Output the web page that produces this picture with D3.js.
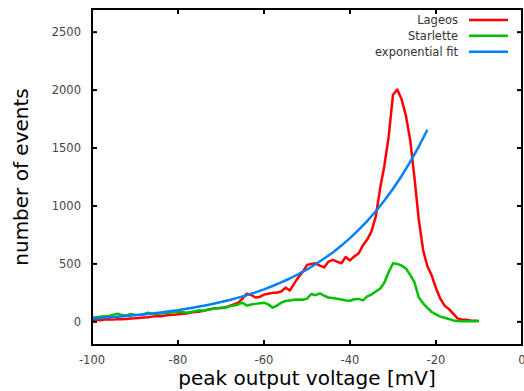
<!DOCTYPE html>
<html><head><meta charset="utf-8">
<script src="https://cdn.jsdelivr.net/npm/d3@7/dist/d3.min.js"></script>
<style>body{margin:0;background:#fff}svg{display:block}</style>
</head><body>
<svg id="c" width="524" height="391"></svg>
<script>
const voltage = [-100,-99,-98,-97,-96,-95,-94,-93,-92,-91,-90,-89,-88,-87,-86,-85,-84,-83,-82,-81,
  -80,-79,-78,-77,-76,-75,-74,-73,-72,-71,-70,-69,-68,-67,-66,-65,-64,-63,-62,-61,
  -60,-59,-58,-57,-56,-55,-54,-53,-52,-51,-50,-49,-48,-47,-46,-45,-44,-43,-42,-41,
  -40,-39,-38,-37,-36,-35,-34,-33,-32,-31,-30,-29,-28,-27,-26,-25,-24,-23,-22,-21,
  -20,-19,-18,-17,-16,-15,-14,-13,-12,-11,-10];
const lageos = [15,18,14,20,22,19,24,22,25,28,
  30,34,38,40,45,50,48,55,58,60,
  65,70,72,80,85,88,95,105,112,118,
  120,125,138,150,165,200,243,232,210,215,
  235,243,250,252,262,295,270,330,385,430,
  490,500,505,485,470,520,535,520,505,560,
  530,565,590,660,710,780,910,1150,1350,1600,
  1960,2005,1920,1780,1570,1240,880,620,480,400,
  290,200,140,110,70,30,20,18,12,10,8];
const starlette = [35,40,45,48,50,62,70,58,55,68,
  62,60,65,78,70,68,72,80,78,82,
  86,84,78,85,92,100,95,105,113,118,
  122,120,135,140,150,165,140,150,155,160,
  165,150,122,140,165,180,185,190,192,190,
  200,240,230,245,225,210,205,200,192,185,
  182,195,198,185,220,235,262,285,340,430,
  505,500,485,460,405,340,210,160,120,85,
  65,45,35,25,12,8,6,5,5,5,8];
const fitVoltage = [-100,-98,-96,-94,-92,-90,-88,-86,-84,-82,-80,-78,-76,-74,-72,-70,-68,-66,-64,-62,
  -60,-58,-56,-54,-52,-50,-48,-46,-44,-42,-40,-38,-36,-34,-32,-30,-28,-26,-24,-22];
const fitValues = [29,34,39,44,50,57,64,72,81,91,101,113,125,139,154,171,189,209,230,254,
  280,309,340,374,411,452,497,546,599,658,722,793,870,954,1047,1148,1259,1380,1513,1658];
const xTicks = [-100,-80,-60,-40,-20,0];
const yTicks = [0,500,1000,1500,2000,2500];
const seriesNames = ["Lageos","Starlette","exponential fit"];
const seriesColors = ["#ff0000","#00c000","#0080ff"];

const svg = d3.select("#c");
const x = d3.scaleLinear().domain([-100,0]).range([92,522]);
const y = d3.scaleLinear().domain([-200,2700]).range([345,9]);
const font = "DejaVu Sans, sans-serif";

const line = d3.line().x(d=>x(d[0])).y(d=>y(d[1]));
const series = [
  d3.zip(voltage, lageos),
  d3.zip(voltage, starlette),
  d3.zip(fitVoltage, fitValues)
];
series.forEach((s,i)=>{
  svg.append("path").attr("d", line(s)).attr("fill","none")
    .attr("stroke", seriesColors[i]).attr("stroke-width",2.5)
    .attr("stroke-linejoin","round");
});

// ticks (inward, mirrored)
const tl = 5;
const g = svg.append("g").attr("stroke","#000").attr("stroke-width",2);
xTicks.forEach(t=>{
  g.append("line").attr("x1",x(t)).attr("x2",x(t)).attr("y1",y(-200)).attr("y2",y(-200)-tl);
  g.append("line").attr("x1",x(t)).attr("x2",x(t)).attr("y1",y(2700)).attr("y2",y(2700)+tl);
});
yTicks.forEach(t=>{
  g.append("line").attr("x1",x(-100)).attr("x2",x(-100)+tl).attr("y1",y(t)).attr("y2",y(t));
  g.append("line").attr("x1",x(0)).attr("x2",x(0)-tl).attr("y1",y(t)).attr("y2",y(t));
});
svg.append("rect").attr("x",x(-100)).attr("y",y(2700))
  .attr("width",x(0)-x(-100)).attr("height",y(-200)-y(2700))
  .attr("fill","none").attr("stroke","#000").attr("stroke-width",2);

// tick labels
svg.append("g").selectAll("text").data(xTicks).join("text")
  .attr("x",d=>x(d)).attr("y",364).attr("text-anchor","middle")
  .attr("font-family",font).attr("font-size","11.5px").attr("fill","#444")
  .text(d=>d);
svg.append("g").selectAll("text").data(yTicks).join("text")
  .attr("x",81).attr("y",d=>y(d)).attr("dy","0.36em").attr("text-anchor","end")
  .attr("font-family",font).attr("font-size","11.5px").attr("fill","#444")
  .text(d=>d);

// axis labels
svg.append("text").attr("x",307).attr("y",385).attr("text-anchor","middle")
  .attr("font-family",font).attr("font-size","20px").attr("fill","#000")
  .text("peak output voltage [mV]");
svg.append("text").attr("transform","translate(28,177) rotate(-90)")
  .attr("text-anchor","middle")
  .attr("font-family",font).attr("font-size","20px").attr("fill","#000")
  .text("number of events");

// legend
const legY = [20,35.7,51.7];
seriesNames.forEach((n,i)=>{
  svg.append("text").attr("x",458).attr("y",legY[i]).attr("dy","0.36em")
    .attr("text-anchor","end").attr("font-family",font).attr("font-size","11.5px")
    .attr("fill","#333").text(n);
  svg.append("line").attr("x1",469).attr("x2",508).attr("y1",legY[i]).attr("y2",legY[i])
    .attr("stroke",seriesColors[i]).attr("stroke-width",2.5);
});
</script>
</body></html>
